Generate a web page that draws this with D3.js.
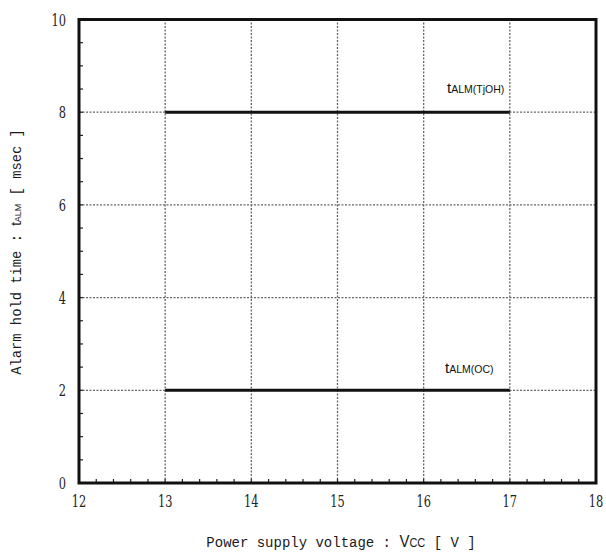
<!DOCTYPE html>
<html><head><meta charset="utf-8">
<script src="https://cdn.jsdelivr.net/npm/d3@7"></script>
<style>body{margin:0;background:#fff}</style>
</head><body>
<script>
const xTicks = [12, 13, 14, 15, 16, 17, 18];
const yTicks = [0, 2, 4, 6, 8, 10];
const seriesNames = ["ALM(TjOH)", "ALM(OC)"];
const seriesX = [[13, 17], [13, 17]];
const seriesY = [[8, 8], [2, 2]];

const W = 606, H = 553;
const svg = d3.select("body").append("svg").attr("width", W).attr("height", H);
const x = d3.scaleLinear().domain([12, 18]).range([79, 596]);
const y = d3.scaleLinear().domain([0, 10]).range([483, 19.5]);
const mono = "'Liberation Mono', 'DejaVu Sans Mono', monospace";
const serif = "'DejaVu Serif', 'Liberation Serif', serif";
const sans = "'Liberation Sans', Arial, sans-serif";

// grid
const g = svg.append("g");
g.selectAll(".gx").data(xTicks.slice(1, -1)).join("line")
  .attr("x1", d => x(d)).attr("x2", d => x(d)).attr("y1", y(0)).attr("y2", y(10))
  .attr("stroke", "#666").attr("stroke-width", 1.3).attr("stroke-dasharray", "2,1.5");
g.selectAll(".gy").data(yTicks.slice(1, -1)).join("line")
  .attr("y1", d => y(d)).attr("y2", d => y(d)).attr("x1", x(12)).attr("x2", x(18))
  .attr("stroke", "#666").attr("stroke-width", 1.3).attr("stroke-dasharray", "2,1.5");

// minor ticks
const xMinor = d3.range(12, 18.001, 0.2);
const yMinor = d3.range(0, 10.001, 0.5);
svg.append("g").selectAll("line").data(xMinor).join("line")
  .attr("x1", d => x(d)).attr("x2", d => x(d)).attr("y1", y(0)).attr("y2", y(0) - 4)
  .attr("stroke", "#222").attr("stroke-width", 1.2);
svg.append("g").selectAll("line").data(yMinor).join("line")
  .attr("y1", d => y(d)).attr("y2", d => y(d)).attr("x1", x(12)).attr("x2", x(12) + 4)
  .attr("stroke", "#222").attr("stroke-width", 1.2);

// series lines
const line = d3.line().x(d => x(d[0])).y(d => y(d[1]));
seriesX.forEach((xs, i) => {
  svg.append("path").datum(xs.map((v, j) => [v, seriesY[i][j]]))
    .attr("d", line).attr("fill", "none").attr("stroke", "#111").attr("stroke-width", 3);
});

// series labels with white background
const labelPos = [[447, 93], [445, 373]];
seriesNames.forEach((n, i) => {
  const [lx, ly] = labelPos[i];
  svg.append("rect").attr("x", lx - 6).attr("y", ly - 17).attr("width", 68).attr("height", 26).attr("fill", "#fff");
  const t = svg.append("text").attr("x", lx).attr("y", ly).attr("font-family", sans).attr("fill", "#111");
  t.append("tspan").attr("font-size", 15).text("t");
  t.append("tspan").attr("font-size", 10.5).text(n);
});

// frame
svg.append("rect").attr("x", x(12)).attr("y", y(10)).attr("width", x(18) - x(12)).attr("height", y(0) - y(10))
  .attr("fill", "none").attr("stroke", "#111").attr("stroke-width", 3);

// tick labels
svg.append("g").selectAll("text").data(yTicks).join("text")
  .attr("transform", d => `translate(66,${y(d) + 6}) scale(0.95,1.4)`)
  .attr("text-anchor", "end").attr("font-family", serif).attr("font-size", 12).attr("fill", "#222")
  .text(d => d);
svg.append("g").selectAll("text").data(xTicks).join("text")
  .attr("transform", d => `translate(${x(d)},507) scale(0.95,1.4)`)
  .attr("text-anchor", "middle").attr("font-family", serif).attr("font-size", 12).attr("fill", "#222")
  .text(d => d);

// x title
const xt = svg.append("text").attr("transform", "translate(341,547) scale(1,1.1)")
  .attr("text-anchor", "middle").attr("font-family", mono).attr("font-size", 14).attr("fill", "#1a1a1a");
xt.append("tspan").text("Power supply voltage : ");
xt.append("tspan").attr("font-family", sans).attr("font-size", 15).text("V");
xt.append("tspan").attr("font-family", sans).attr("font-size", 11).text("CC");
xt.append("tspan").text(" [ V ]");

// y title
const yt = svg.append("text").attr("transform", "translate(21,252) rotate(-90) scale(1,1.1)")
  .attr("text-anchor", "middle").attr("font-family", mono).attr("font-size", 13.8).attr("fill", "#1a1a1a");
yt.append("tspan").text("Alarm hold time : ");
yt.append("tspan").attr("font-family", sans).attr("font-size", 13).text("t");
yt.append("tspan").attr("font-family", sans).attr("font-size", 9).text("ALM");
yt.append("tspan").text(" [ msec ]");
</script>
</body></html>
